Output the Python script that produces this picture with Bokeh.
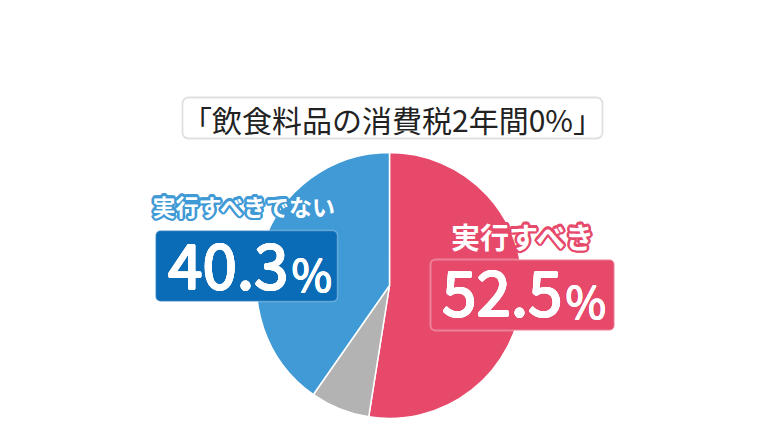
import math
from bokeh.plotting import figure
from bokeh.models import Range1d, BoxAnnotation, ColumnDataSource
from bokeh.core.properties import value
from bokeh.embed import file_html
from bokeh.resources import INLINE

# ---- data ----
title_text = "「飲食料品の消費税2年間0%」"
categories = ["実行すべき", "その他・わからない", "実行すべきでない"]
shares = [52.5, 7.2, 40.3]
colors = ["#E6496A", "#B3B3B3", "#3F9AD6"]
value_labels = ["52.5", "", "40.3"]

W, H = 764, 422
p = figure(width=W, height=H, output_backend="svg", toolbar_location=None,
           x_range=Range1d(0, W), y_range=Range1d(438 - H, 438),
           min_border=0, background_fill_color="white", border_fill_color="white")
p.axis.visible = False
p.grid.visible = False
p.outline_line_color = None

def Y(sy):
    return 438 - sy

FONT = value("Noto Sans CJK JP")

# ---- pie ----
cx, cy, r = 389, Y(285), 133
starts, ends = [], []
a = math.pi / 2
for s in shares:
    starts.append(a)
    a = a - 2 * math.pi * s / 100.0
    ends.append(a)
src = ColumnDataSource(dict(start=starts, end=ends, color=colors, cat=categories))
p.wedge(x=cx, y=cy, radius=r, start_angle="start", end_angle="end", direction="clock",
        fill_color="color", line_color="white", line_width=1.5, source=src)

# ---- title box ----
p.add_layout(BoxAnnotation(left=182, right=602, top=Y(97), bottom=Y(138),
                           fill_color="white", fill_alpha=1, line_color="#999999",
                           line_width=1.8, border_radius=6, level="annotation"))
t = p.text(x=[392], y=[Y(118)], text=[title_text], text_font=FONT, text_font_size="30px",
           text_color="#222222", text_align="center", text_baseline="middle")
t.level = "overlay"

# ---- value boxes ----
p.add_layout(BoxAnnotation(left=155, right=337, top=Y(230), bottom=Y(301),
                           fill_color="#0A6BB7", fill_alpha=1, line_color="white",
                           line_width=1.5, border_radius=5))
p.add_layout(BoxAnnotation(left=430, right=614, top=Y(259), bottom=Y(330),
                           fill_color=colors[0], fill_alpha=1, line_color="white",
                           line_width=2, border_radius=5))

def ring_text(x, y, txt, size, color, rad, style, align="center", n=16):
    if rad > 0:
        xo = [rad * math.cos(2 * math.pi * k / n) for k in range(n)]
        yo = [rad * math.sin(2 * math.pi * k / n) for k in range(n)]
    else:
        xo, yo, n = [0], [0], 1
    s = ColumnDataSource(dict(x=[x] * n, y=[y] * n, t=[txt] * n, xo=xo, yo=yo))
    g = p.text(x="x", y="y", text="t", x_offset="xo", y_offset="yo", source=s,
               text_font=FONT, text_font_size=size, text_font_style=style,
               text_color=color, text_align=align, text_baseline="middle")
    g.level = "overlay"

def outlined(x, y, txt, size, outline):
    ring_text(x, y, txt, size, outline, 2.5, "bold")
    ring_text(x, y, txt, size, "white", 0, "bold")

outlined(244, Y(205), categories[2], "23px", colors[2])
outlined(523, Y(235), categories[0], "29px", colors[0])

def number(xr, mid, num):
    ring_text(xr, Y(mid), num, "62px", "white", 0.9, "normal", align="right", n=12)
    ring_text(xr + 3, Y(mid + 6), "%", "44px", "white", 0.5, "normal", align="left", n=8)

number(288, 266, value_labels[2])
number(562, 293, value_labels[0])

open("out.html", "w").write(file_html(p, INLINE))
